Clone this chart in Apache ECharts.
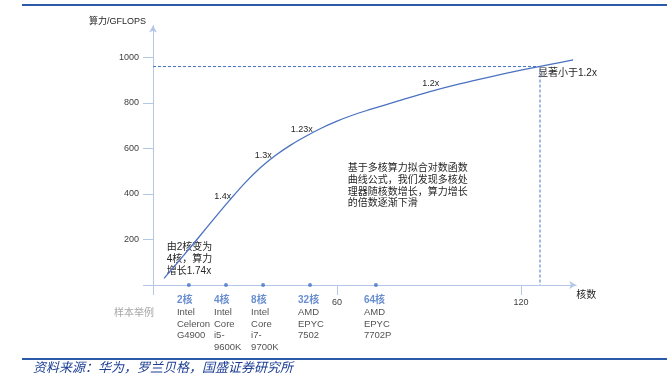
<!DOCTYPE html>
<html>
<head>
<meta charset="utf-8">
<script src="https://cdn.jsdelivr.net/npm/echarts@6/dist/echarts.min.js"></script>
<style>
  html, body { margin: 0; padding: 0; background: #fff; }
  #chart { width: 667px; height: 379px; }
</style>
</head>
<body>
<div id="chart"></div>
<script>
// curve: cores -> GFLOPS
var coreCounts = [3.6, 10, 15, 20, 25, 30, 35, 40, 45, 50, 55, 60, 65, 70, 80, 90, 100, 110, 120, 130, 137];
var gflops = [29, 130, 211, 293, 373, 449, 515, 570, 616, 655, 690, 720, 746, 768, 809, 849, 884, 915, 944, 971, 989];

// dashed guide (horizontal then down to the axis)
var guideX = [0, 126.2, 126.2];
var guideY = [960, 960, 0];

// sample chips, drawn as dots on the x axis (schematic positions)
var sampleX = [11.7, 23.8, 35.9, 51.2, 72.7];
var sampleCores = ['2核', '4核', '8核', '32核', '64核'];
var sampleChips = ['Intel\nCeleron\nG4900', 'Intel\nCore\ni5-\n9600K', 'Intel\nCore\ni7-\n9700K', 'AMD\nEPYC\n7502', 'AMD\nEPYC\n7702P'];

var xTicks = [0, 60, 120];
var xLabels = [60, 120];
var yTicks = [0, 200, 400, 600, 800, 1000];
var yLabels = [200, 400, 600, 800, 1000];

var FONT = "'Liberation Sans', 'Noto Sans CJK SC', sans-serif";
var AXIS_COLOR = '#b4c7e7';
var BLUE = '#4472c4';

function zip(a, b) {
  var out = [];
  for (var i = 0; i < a.length; i++) {
    out.push([a[i], b[i]]);
  }
  return out;
}

function plain(v) {
  return String(v);
}

function txt(text, x, y, size, opts) {
  opts = opts || {};
  return {
    type: 'text',
    x: x,
    y: y,
    silent: true,
    style: {
      text: text,
      fontFamily: FONT,
      fontSize: size,
      fontStyle: opts.italic ? 'italic' : 'normal',
      fill: opts.color || '#262626',
      align: opts.align || 'left',
      verticalAlign: opts.va || 'middle',
      lineHeight: opts.lineHeight
    }
  };
}

var chart = echarts.init(document.getElementById('chart'));

var sampleData = [];
for (var i = 0; i < sampleX.length; i++) {
  sampleData.push({ value: [sampleX[i], 0], core: sampleCores[i], chip: sampleChips[i] });
}

var option = {
  animation: false,
  backgroundColor: '#fff',
  grid: { left: 153, top: 25.6, right: 90.8, bottom: 94 },
  xAxis: {
    type: 'value',
    min: 0,
    max: 138,
    name: '核数',
    nameLocation: 'end',
    nameGap: 0,
    nameTextStyle: { fontFamily: FONT, fontSize: 10, color: '#262626', align: 'left', verticalAlign: 'top', padding: [5, 0, 0, 0] },
    splitLine: { show: false },
    axisLine: { show: true, lineStyle: { color: AXIS_COLOR, width: 1 }, symbol: ['none', 'arrow'], symbolSize: [6, 7] },
    axisTick: { show: true, length: 10, lineStyle: { color: AXIS_COLOR }, customValues: xTicks },
    axisLabel: { margin: 13, fontFamily: FONT, fontSize: 9, color: '#404040', customValues: xLabels, formatter: plain }
  },
  yAxis: {
    type: 'value',
    min: 0,
    max: 1140,
    name: '算力/GFLOPS',
    nameLocation: 'end',
    nameGap: 4,
    nameTextStyle: { fontFamily: FONT, fontSize: 9, color: '#262626', align: 'right', verticalAlign: 'middle', padding: [0, 7, 0, 0] },
    splitLine: { show: false },
    axisLine: { show: true, lineStyle: { color: AXIS_COLOR, width: 1 }, symbol: ['none', 'arrow'], symbolSize: [6, 7] },
    axisTick: { show: true, length: 10, lineStyle: { color: AXIS_COLOR }, customValues: yTicks },
    axisLabel: { margin: 14, fontFamily: FONT, fontSize: 9, color: '#404040', customValues: yLabels, formatter: plain }
  },
  series: [
    {
      name: '算力',
      type: 'line',
      data: zip(coreCounts, gflops),
      smooth: 0.3,
      showSymbol: false,
      lineStyle: { color: '#4a72c0', width: 1.3 },
      z: 3
    },
    {
      name: 'guide',
      type: 'line',
      data: zip(guideX, guideY),
      showSymbol: false,
      lineStyle: { color: BLUE, width: 1, type: [3, 2] },
      z: 2
    },
    {
      name: '样本',
      type: 'scatter',
      data: sampleData,
      symbolSize: 4,
      itemStyle: { color: BLUE },
      z: 4,
      label: {
        show: true,
        position: 'bottom',
        distance: 7,
        align: 'left',
        verticalAlign: 'top',
        offset: [-12, 0],
        formatter: function (p) {
          var lines = p.data.chip.split('\n');
          var s = '{c|' + p.data.core + '}';
          for (var k = 0; k < lines.length; k++) {
            s += '\n{t|' + lines[k] + '}';
          }
          return s;
        },
        rich: {
          c: { fontFamily: FONT, fontSize: 10, fontWeight: 'bold', color: BLUE, lineHeight: 13 },
          t: { fontFamily: FONT, fontSize: 9.5, color: '#262626', lineHeight: 11.4 }
        }
      }
    }
  ],
  graphic: [
    { type: 'line', silent: true, shape: { x1: 22, y1: 5, x2: 667, y2: 5 }, style: { stroke: '#2a5aa8', lineWidth: 2 } },
    { type: 'line', silent: true, shape: { x1: 22, y1: 359, x2: 667, y2: 359 }, style: { stroke: '#2a5aa8', lineWidth: 2 } },
    txt('资料来源：华为，罗兰贝格，国盛证券研究所', 33, 368, 13, { italic: true, color: '#1c3f94' }),
    txt('样本举例', 114, 313, 10, { color: '#a6a6a6' }),
    txt('1.4x', 222.7, 196.7, 9, { align: 'center' }),
    txt('1.3x', 263.3, 156, 9, { align: 'center' }),
    txt('1.23x', 301.7, 129.3, 9, { align: 'center' }),
    txt('1.2x', 430.7, 83.3, 9, { align: 'center' }),
    txt('显著小于1.2x', 538, 73.3, 10),
    txt('由2核变为\n4核，算力\n增长1.74x', 166.7, 241.3, 10, { va: 'top', lineHeight: 12 }),
    txt('基于多核算力拟合对数函数\n曲线公式，我们发现多核处\n理器随核数增长，算力增长\n的倍数逐渐下滑', 347.7, 162.5, 10, { va: 'top', lineHeight: 11.7 })
  ]
};

chart.setOption(option);
</script>
</body>
</html>
